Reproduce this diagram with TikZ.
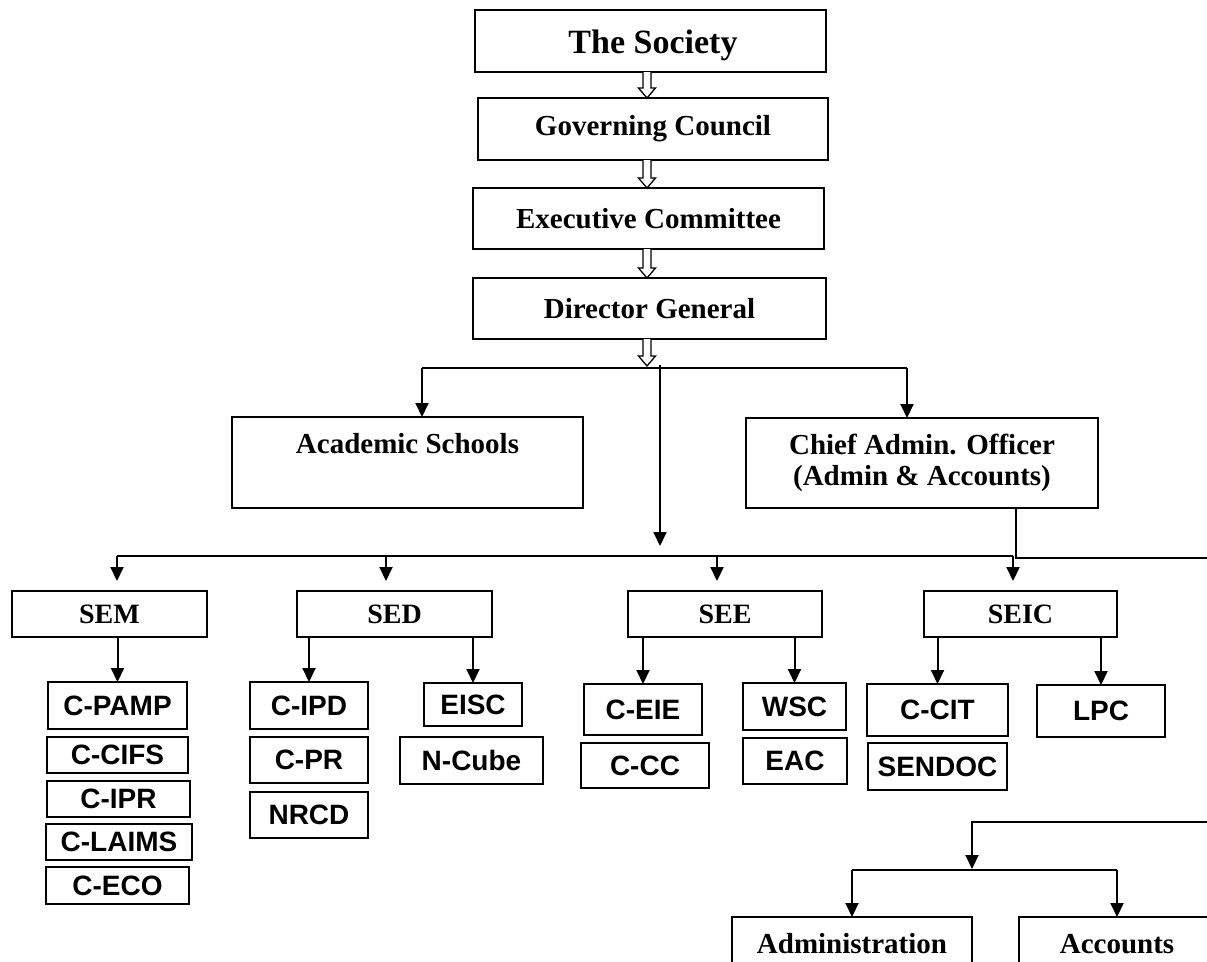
\documentclass[tikz,border=0pt]{standalone}
\usepackage{fontspec}
\setmainfont{Liberation Serif}
\newfontfamily\arialf{Liberation Sans}
\usetikzlibrary{arrows.meta,calc}
\tikzset{
  bx/.style={draw, line width=2pt, inner sep=1pt, outer sep=0pt, anchor=north west,
    align=center, font=\bfseries\fontsize{29}{31}\selectfont},
  sbx/.style={bx, font=\bfseries\fontsize{28}{30}\selectfont},
  lbx/.style={bx, font=\arialf\bfseries\fontsize{28}{30}\selectfont},
  btxt/.style={anchor=base, inner sep=0pt, font=\bfseries\fontsize{29}{31}\selectfont},
  conn/.style={line width=2pt},
  arr/.style={conn, -{Triangle[length=14pt,width=13pt]}},
  hol/.style={line width=1.3pt, fill=white, line join=miter},
}
% \mkbox{style}{name}{x}{y}{w}{h}{text}
\newcommand\mkbox[7]{\node[#1, minimum width=#5pt, minimum height=#6pt] (#2) at (#3,#4) {#7};}
\newcommand\hollowarr[2]{\draw[hol] let \p1=(#1), \p2=(#2) in
  (\x1-4pt,\y1) -- (\x1-4pt,\y2+10pt) -- (\x1-8.5pt,\y2+10pt) -- (\x1,\y2)
  -- (\x1+8.5pt,\y2+10pt) -- (\x1+4pt,\y2+10pt) -- (\x1+4pt,\y1);}
\begin{document}
\begin{tikzpicture}[x=1pt,y=-1pt]
\useasboundingbox (0,0) rectangle (1207,961);
\fill[white] (0,0) rectangle (1207,961);
\clip (0,0) rectangle (1207,961);

% top chain
\mkbox{bx}{soc}{475}{10}{351}{62}{}
\node[btxt, font=\bfseries\fontsize{34}{36}\selectfont] at ($(soc.north west)+(178,43)$) {The Society};
\mkbox{bx}{gc}{478}{98}{350}{62}{Governing Council}
\mkbox{bx}{ec}{473}{188}{351}{61}{Executive Committee}
\mkbox{bx}{dg}{473}{278}{353}{61}{Director General}

% second level
\mkbox{bx}{acad}{232}{417}{351}{91}{}
\node[btxt] at ($(acad.north)+(0,36)$) {Academic Schools};
\mkbox{bx}{cao}{746}{418}{352}{90}{Chief Admin. Officer\\(Admin \& Accounts)}

% schools
\mkbox{sbx}{sem}{12}{591}{195}{46}{SEM}
\mkbox{sbx}{sed}{297}{591}{195}{46}{SED}
\mkbox{sbx}{see}{628}{591}{194}{46}{SEE}
\mkbox{sbx}{seic}{924}{591}{193}{46}{SEIC}

% centres
\mkbox{lbx}{cpamp}{48}{682}{139}{47}{C-PAMP}
\mkbox{lbx}{ccifs}{47}{737}{141}{36}{C-CIFS}
\mkbox{lbx}{cipr}{47}{781}{143}{36}{C-IPR}
\mkbox{lbx}{claims}{46}{824}{146}{36}{C-LAIMS}
\mkbox{lbx}{ceco}{46}{867}{143}{37}{C-ECO}
\mkbox{lbx}{cipd}{250}{682}{118}{47}{C-IPD}
\mkbox{lbx}{cpr}{250}{737}{118}{46}{C-PR}
\mkbox{lbx}{nrcd}{250}{792}{118}{46}{NRCD}
\mkbox{lbx}{eisc}{424}{683}{98}{43}{EISC}
\mkbox{lbx}{ncube}{400}{737}{143}{47}{N-Cube}
\mkbox{lbx}{ceie}{584}{684}{118}{51}{C-EIE}
\mkbox{lbx}{ccc}{581}{743}{128}{45}{C-CC}
\mkbox{lbx}{wsc}{743}{683}{103}{47}{WSC}
\mkbox{lbx}{eac}{743}{738}{104}{46}{EAC}
\mkbox{lbx}{ccit}{867}{684}{141}{52}{C-CIT}
\mkbox{lbx}{sendoc}{868}{743}{139}{47}{SENDOC}
\mkbox{lbx}{lpc}{1037}{685}{128}{52}{LPC}

% admin / accounts
\mkbox{bx}{admin}{732}{917}{240}{90}{}
\node[btxt] at ($(admin.north)+(0,36)$) {Administration};
\mkbox{bx}{acc}{1019}{917}{240}{90}{}
\node[btxt] at ($(acc.north west)+(98,36)$) {Accounts};

% hollow arrows
\coordinate (ax) at (647,0);
\coordinate (j0) at (647,366);
\hollowarr{soc.south -| ax}{gc.north -| ax}
\hollowarr{gc.south -| ax}{ec.north -| ax}
\hollowarr{ec.south -| ax}{dg.north -| ax}
\hollowarr{dg.south -| ax}{j0}

% branch under director general
\coordinate (bL) at (422,368);
\coordinate (bR) at (907,368);
\draw[conn] (bL) -- (bR);
\draw[arr] (bL) -- (bL |- acad.north);
\draw[arr] (bR) -- (bR |- cao.north);

\coordinate (c0) at (660,365);
\coordinate (c1) at (660,546);
\draw[arr] (c0) -- (c1);

\coordinate (s1) at (117,556);
\coordinate (s2) at (386,556);
\coordinate (s3) at (717,556);
\coordinate (s4) at (1013,556);
\draw[conn] (s1) -- (s4);
\draw[arr] (s1) -- ($(s1 |- sem.north)+(0,-10)$);
\draw[arr] (s2) -- ($(s2 |- sed.north)+(0,-10)$);
\draw[arr] (s3) -- ($(s3 |- see.north)+(0,-10)$);
\draw[arr] (s4) -- ($(s4 |- seic.north)+(0,-10)$);

% school -> centre
\draw[arr] (sem.south -| cpamp.north) -- (cpamp.north);
\draw[arr] (sed.south -| cipd.north) -- (cipd.north);
\draw[arr] (sed.south -| eisc.north) -- (eisc.north);
\draw[arr] (see.south -| ceie.north) -- (ceie.north);
\draw[arr] (see.south -| wsc.north) -- (wsc.north);
\draw[arr] (seic.south -| ccit.north) -- (ccit.north);
\draw[arr] (seic.south -| lpc.north) -- (lpc.north);

% chief admin officer line off the page
\coordinate (ca1) at (1016,558);
\coordinate (ca2) at (1207,558);
\draw[conn] (cao.south -| ca1) -- (ca1) -- (ca2);

% line coming back in to admin / accounts
\coordinate (d0) at (1207,822);
\coordinate (d1) at (972,822);
\coordinate (d2) at (972,869);
\draw[arr] (d0) -- (d1) -- (d2);
\coordinate (e1) at (852,870);
\coordinate (e2) at (1117,870);
\draw[conn] (e1) -- (e2);
\draw[arr] (e1) -- (e1 |- admin.north);
\draw[arr] (e2) -- (e2 |- acc.north);
\end{tikzpicture}
\end{document}
